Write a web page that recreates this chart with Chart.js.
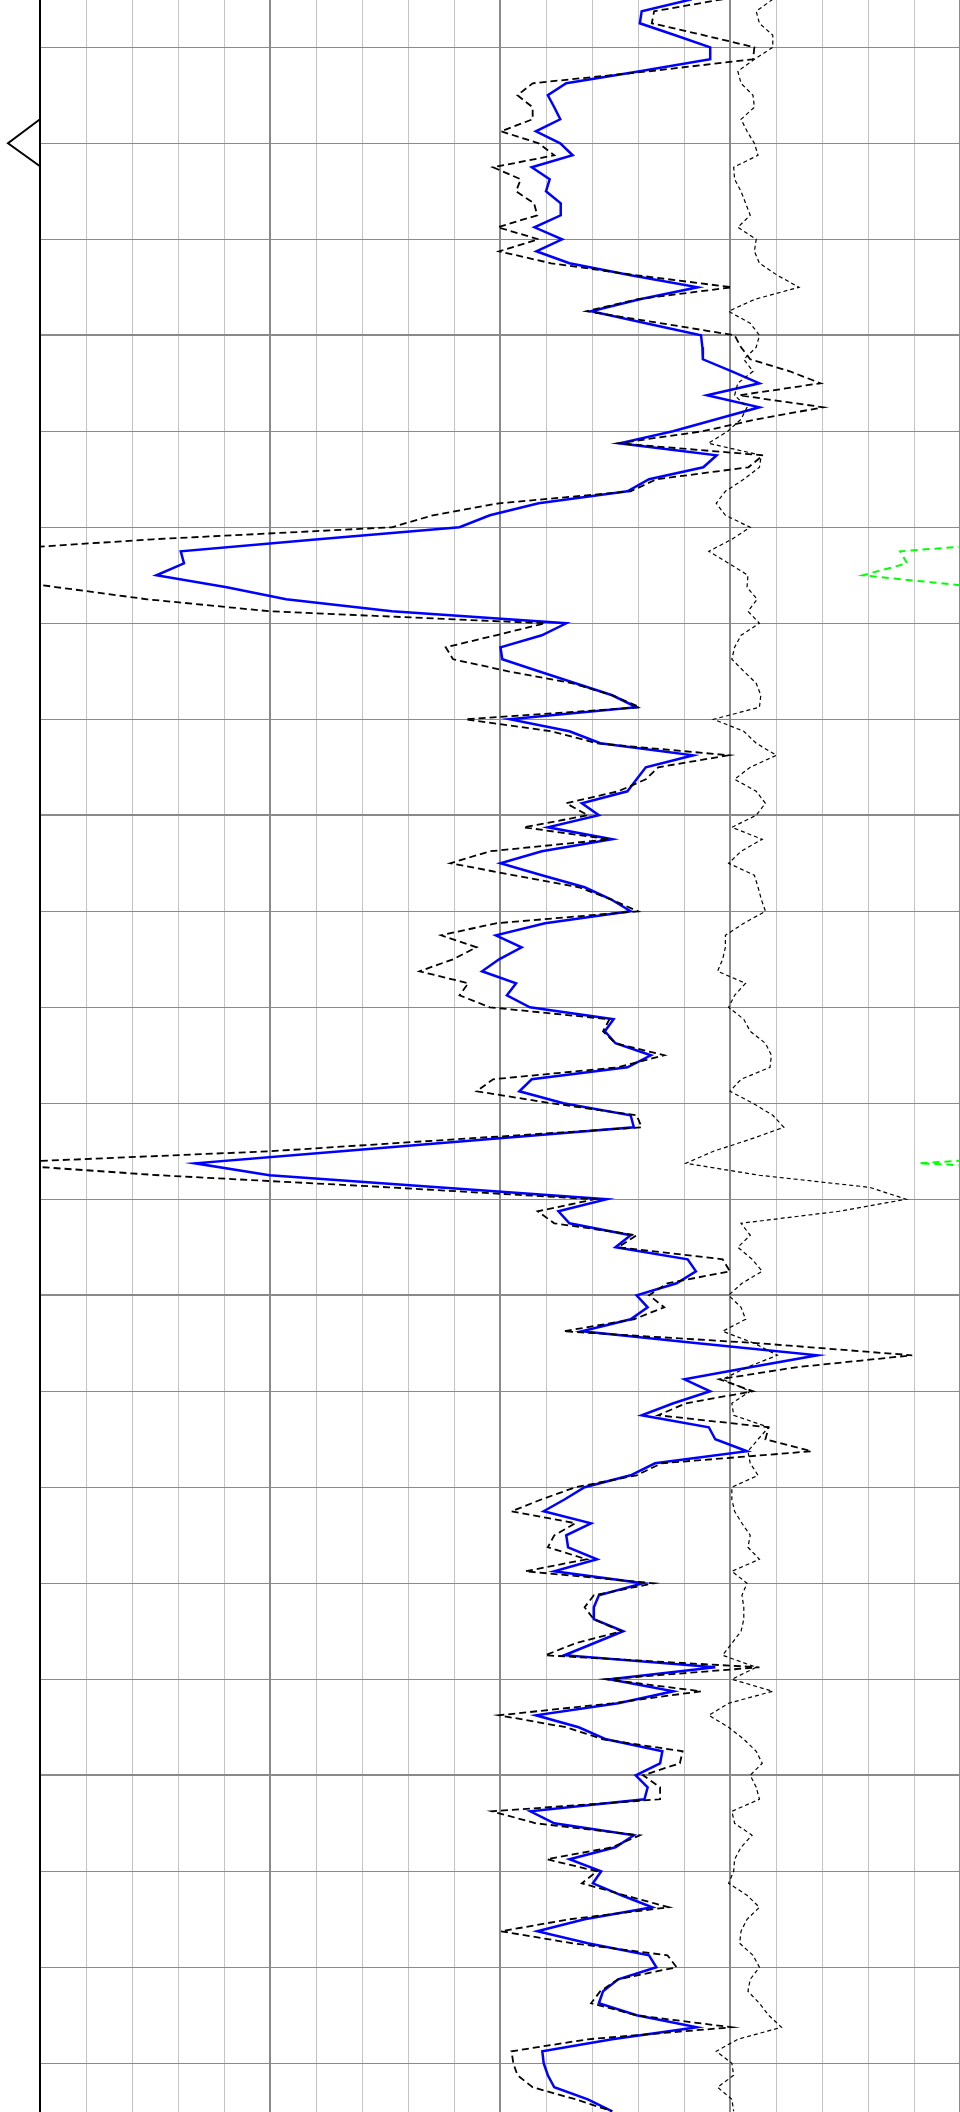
<!DOCTYPE html>
<html>
<head>
<meta charset="utf-8">
<title>Log track</title>
<script src="https://cdn.jsdelivr.net/npm/chart.js@4.4.1/dist/chart.umd.min.js"></script>
<style>
    html, body { margin: 0; padding: 0; background: #fff; }
    #wrap { position: relative; width: 960px; height: 2112px; }
</style>
</head>
<body>
<div id="wrap"><canvas id="logChart"></canvas></div>
<script>
// ═══════════ DATA ═══════════
// regular sampling: one reading every 0.25 m from 1003 m
const TOP_DEPTH = 1003;
const STEP = 0.25;
const VIEW_TOP = 1003.015;
const VIEW_BOTTOM = 1047.015;
const MARKER_DEPTH = 1006;

// grid positions (no labels are printed on this track)
const depthTicks = [1004, 1006, 1008, 1010, 1012, 1014, 1016, 1018, 1020, 1022, 1024,
    1026, 1028, 1030, 1032, 1034, 1036, 1038, 1040, 1042, 1044, 1046];
const valueTicks = [0, 10, 20, 30, 40, 50, 60, 70, 80, 90, 100,
    110, 120, 130, 140, 150, 160, 170, 180, 190, 200];

// blue solid curve
const blueLog = [
    141.7, 130.8, 130.4, 138.1, 145.7, 145.7, 130.4, 114.4, 110.4, 111.8,
    113.1, 107.8, 113.1, 115.8, 106.9, 110.8, 110.0, 113.2, 113.2, 107.5,
    113.5, 107.9, 115.1, 128.4, 143.0, 130.4, 119.8, 131.7, 143.7, 144.0,
    144.1, 150.4, 156.4, 145.0, 156.4, 147.0, 137.6, 126.0, 147.1, 144.2,
    132.4, 127.7, 108.4, 97.8, 91.2, 60.5, 30.6, 31.3, 25.3, 40.6,
    53.5, 76.5, 114.4, 109.1, 100.1, 100.5, 108.4, 116.4, 124.4, 129.7,
    102.1, 115.1, 121.8, 142.0, 131.7, 129.7, 127.7, 117.8, 121.5, 110.4,
    124.4, 109.1, 100.1, 109.1, 118.4, 124.1, 128.4, 109.8, 99.1, 104.7,
    99.8, 96.1, 103.5, 101.5, 106.5, 124.7, 122.8, 125.1, 132.8, 127.7,
    106.9, 104.2, 113.8, 128.4, 129.1, 97.3, 65.5, 33.7, 49.9, 86.5,
    123.2, 112.7, 115.1, 128.4, 125.1, 140.8, 142.6, 138.4, 129.7, 132.1,
    128.4, 117.8, 143.0, 169.0, 154.4, 140.1, 145.7, 137.7, 130.8, 145.4,
    146.8, 153.7, 133.7, 128.4, 118.4, 114.1, 109.5, 119.8, 114.4, 114.8,
    121.1, 111.8, 131.1, 121.5, 120.4, 120.4, 126.8, 120.4, 114.0, 146.8,
    123.8, 137.7, 125.7, 107.8, 117.1, 123.1, 135.3, 134.8, 129.5, 132.1,
    131.4, 106.6, 111.8, 129.1, 125.1, 115.1, 122.0, 120.2, 126.4, 133.1,
    118.4, 108.1, 119.1, 132.4, 134.0, 125.7, 122.4, 121.5, 129.7, 142.8,
    124.4, 109.2, 109.5, 110.4, 111.8, 119.1, 124.4
];

// black dashed curve (follows the blue one)
const dashLog = [
    148.4, 133.5, 133.0, 144.4, 155.3, 155.0, 132.4, 107.1, 103.8, 107.1,
    107.1, 100.2, 108.4, 111.8, 98.5, 104.5, 103.5, 107.4, 108.1, 99.5,
    108.4, 99.8, 111.1, 129.7, 150.4, 129.8, 118.8, 135.1, 151.0, 152.4,
    154.4, 163.0, 169.7, 152.0, 170.3, 155.8, 144.0, 125.7, 157.2, 154.0,
    134.0, 128.4, 99.8, 85.4, 76.5, 24.6, -15.7, -25.0, -15.0, 3.8,
    23.3, 49.9, 109.8, 99.1, 88.2, 89.8, 101.8, 115.8, 124.4, 130.4,
    92.5, 111.1, 121.1, 149.7, 134.4, 131.7, 125.7, 114.4, 119.1, 105.1,
    123.8, 97.8, 89.2, 103.1, 117.1, 124.1, 130.0, 99.1, 87.2, 94.9,
    89.8, 82.5, 93.1, 91.2, 97.8, 123.8, 122.4, 125.1, 135.7, 125.7,
    98.5, 94.9, 111.1, 129.7, 130.8, 90.4, 49.9, -12.0, 26.0, 75.8,
    120.5, 108.2, 111.8, 129.7, 125.7, 148.4, 150.0, 136.4, 132.4, 135.7,
    129.1, 113.8, 156.4, 189.6, 164.3, 147.7, 155.0, 140.4, 134.4, 158.4,
    157.7, 167.7, 135.1, 129.7, 116.4, 109.1, 102.5, 116.4, 111.8, 110.4,
    118.8, 105.5, 133.5, 120.4, 118.4, 120.4, 126.4, 116.4, 109.8, 156.4,
    123.1, 143.7, 124.4, 99.8, 114.4, 122.4, 139.7, 139.1, 131.1, 134.8,
    134.8, 98.2, 107.8, 130.4, 124.4, 110.2, 121.1, 117.8, 127.1, 136.7,
    115.1, 100.2, 115.8, 136.4, 138.4, 125.7, 121.8, 119.8, 129.7, 150.4,
    119.1, 102.5, 102.9, 103.8, 107.1, 116.4, 124.4
];

// thin dotted curve on the right
const dotLog = [
    159.3, 155.7, 156.4, 159.3, 159.3, 155.3, 151.7, 152.4, 155.0, 155.3,
    152.4, 153.7, 155.3, 156.1, 150.8, 151.0, 152.4, 153.4, 154.4, 151.7,
    155.7, 155.3, 156.4, 160.3, 165.0, 155.4, 149.7, 154.4, 156.4, 155.7,
    153.0, 155.0, 151.7, 151.0, 153.7, 152.4, 149.5, 145.3, 156.8, 156.4,
    153.0, 149.0, 147.0, 149.0, 154.4, 150.4, 145.4, 149.7, 153.9, 153.7,
    155.9, 153.9, 156.4, 152.4, 151.0, 150.4, 153.0, 155.7, 156.7, 156.4,
    146.4, 153.0, 155.7, 160.1, 154.4, 151.0, 155.7, 157.7, 155.7, 150.4,
    157.0, 152.4, 149.7, 155.3, 156.1, 156.8, 157.7, 153.0, 149.0, 149.0,
    148.4, 147.3, 153.4, 151.0, 149.7, 153.0, 154.4, 157.7, 159.0, 158.7,
    152.4, 150.0, 155.0, 159.3, 161.7, 154.4, 146.4, 140.4, 156.4, 180.3,
    188.3, 173.7, 152.4, 154.4, 151.7, 154.8, 157.0, 152.6, 149.7, 152.4,
    153.4, 148.4, 155.3, 160.3, 153.7, 148.4, 154.4, 150.4, 150.8, 158.4,
    156.1, 153.9, 154.4, 156.1, 150.4, 150.4, 151.0, 152.6, 154.4, 153.9,
    156.4, 150.4, 153.7, 152.6, 153.0, 153.0, 152.4, 150.4, 148.4, 155.7,
    150.4, 159.3, 149.7, 145.4, 149.7, 153.0, 155.7, 157.0, 154.4, 155.7,
    156.4, 150.4, 151.0, 154.8, 152.4, 151.0, 150.8, 149.7, 153.7, 156.4,
    153.7, 152.4, 152.1, 155.0, 156.4, 154.4, 153.9, 156.4, 158.4, 161.2,
    151.7, 147.0, 150.4, 150.8, 147.3, 150.4, 150.8
];

// green dashed curve: only two short dips enter the track (null = break)
const greenIdx = [45, 46, 47, 48, 49, null, 96, 97, 98];
const greenLog = [222, 187.0, 188.5, 178.9, 204.3, null, 232, 191.1, 246];

// ═══════════ BUILD ═══════════
const depthAt = i => TOP_DEPTH + i * STEP;
const toPoints = vals => vals.map((v, i) => ({ x: v, y: depthAt(i) }));
const greenPoints = greenIdx.map((idx, k) =>
    idx === null ? { x: null, y: null } : { x: greenLog[k], y: depthAt(idx) });

const isMajor = (v, step) => Math.abs(v / step - Math.round(v / step)) < 1e-6;

// depth marker (open triangle left of the track)
const markerPlugin = {
    id: 'depthMarker',
    afterDraw(chart) {
        const { ctx, chartArea, scales } = chart;
        const y = scales.y.getPixelForValue(MARKER_DEPTH);
        ctx.save();
        ctx.strokeStyle = '#000';
        ctx.lineWidth = 2;
        ctx.beginPath();
        ctx.moveTo(chartArea.left, y - 24);
        ctx.lineTo(chartArea.left - 32, y);
        ctx.lineTo(chartArea.left, y + 23);
        ctx.stroke();
        ctx.restore();
    }
};

new Chart(document.getElementById('logChart'), {
    type: 'scatter',
    data: {
        datasets: [
            {
                label: 'dashed',
                data: toPoints(dashLog),
                showLine: true,
                borderColor: '#000',
                borderWidth: 1.8,
                borderDash: [7, 4],
                pointRadius: 0,
                tension: 0
            },
            {
                label: 'dotted',
                data: toPoints(dotLog),
                showLine: true,
                borderColor: '#000',
                borderWidth: 1.2,
                borderDash: [4, 3],
                pointRadius: 0,
                tension: 0
            },
            {
                label: 'blue',
                data: toPoints(blueLog),
                showLine: true,
                borderColor: '#0000ff',
                borderWidth: 2.5,
                pointRadius: 0,
                tension: 0
            },
            {
                label: 'green',
                data: greenPoints,
                showLine: true,
                spanGaps: false,
                borderColor: '#00ff00',
                borderWidth: 2,
                borderDash: [7, 5],
                pointRadius: 0,
                tension: 0
            }
        ]
    },
    options: {
        responsive: true,
        maintainAspectRatio: false,
        animation: false,
        layout: { padding: 0 },
        plugins: {
            legend: { display: false },
            tooltip: { enabled: false }
        },
        scales: {
            x: {
                type: 'linear',
                position: 'bottom',
                min: 0,
                max: 200,
                ticks: { display: false },
                afterBuildTicks: s => { s.ticks = valueTicks.map(v => ({ value: v })); },
                border: { display: false },
                grid: {
                    drawTicks: false,
                    tickLength: 0,
                    color: c => isMajor(c.tick.value, 50) ? '#8a8a8a' : '#c4c4c4',
                    lineWidth: c => isMajor(c.tick.value, 50) ? 2 : 1
                },
                afterFit: s => { s.height = 0; }
            },
            y: {
                type: 'linear',
                position: 'left',
                reverse: true,
                min: VIEW_TOP,
                max: VIEW_BOTTOM,
                ticks: { display: false },
                afterBuildTicks: s => { s.ticks = depthTicks.map(v => ({ value: v })); },
                border: { display: true, color: '#000', width: 2 },
                grid: {
                    drawTicks: false,
                    tickLength: 0,
                    color: '#8a8a8a',
                    lineWidth: c => isMajor(c.tick.value, 10) ? 2 : 1
                },
                afterFit: s => { s.width = 40; }
            }
        }
    },
    plugins: [markerPlugin]
});
</script>
</body>
</html>
